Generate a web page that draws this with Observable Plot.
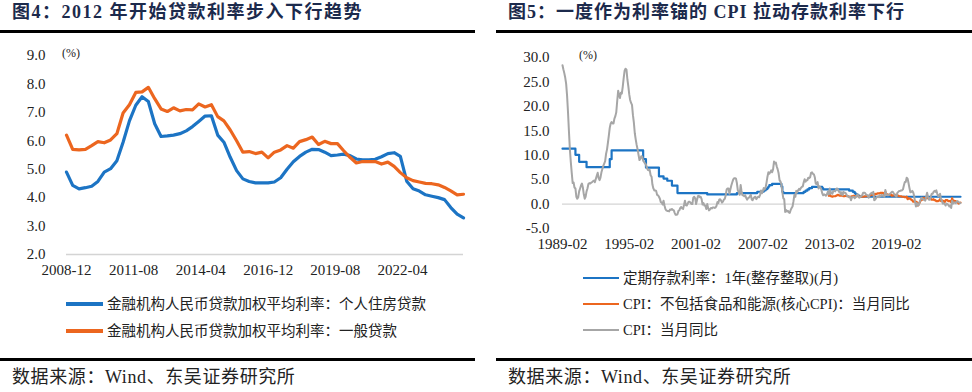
<!DOCTYPE html>
<html>
<head>
<meta charset="utf-8">
<script src="https://cdn.jsdelivr.net/npm/d3@7"></script>
<script src="https://cdn.jsdelivr.net/npm/@observablehq/plot@0.6"></script>
<style>
  html, body { margin: 0; padding: 0; background: #fff; }
  #root { position: relative; width: 972px; height: 392px; background: #fff; overflow: hidden;
          font-family: "Liberation Serif", "Noto Sans CJK SC", serif; color: #222; }
  .abs { position: absolute; }
  .title { position: absolute; font-size: 18px; font-weight: bold; letter-spacing: 1.5px; line-height: 25px;
           color: #1c2a4c; white-space: nowrap; }
  .rule { position: absolute; height: 3px; background: #000; }
  .src { position: absolute; font-size: 18px; line-height: 22px; color: #222; white-space: nowrap; letter-spacing: 0.6px; }
  .unit { position: absolute; font-size: 12px; line-height: 14px; color: #222; }
  .leg { position: absolute; font-size: 14.5px; line-height: 22px; white-space: nowrap; color: #222; }
  .leg .sw { position: absolute; top: 10px; height: 3px; }
</style>
</head>
<body>
<div id="root">
  <div class="title" style="left:12px;top:0px">图4：2012 年开始贷款利率步入下行趋势</div>
  <div class="rule" style="left:0;top:30px;width:475px"></div>
  <div class="abs" id="leftChart" style="left:0;top:40px"></div>
  <div class="unit" style="left:62px;top:46px">(%)</div>
  <div class="rule" style="left:0;top:358px;width:475px"></div>
  <div class="src" style="left:12px;top:366px">数据来源：Wind、东吴证券研究所</div>

  <div class="title" style="left:508px;top:0px;letter-spacing:1px">图5：一度作为利率锚的 CPI 拉动存款利率下行</div>
  <div class="rule" style="left:496px;top:30px;width:476px"></div>
  <div class="abs" id="rightChart" style="left:486px;top:40px"></div>
  <div class="unit" style="left:579px;top:48px">(%)</div>
  <div class="rule" style="left:496px;top:358px;width:476px"></div>
  <div class="src" style="left:508px;top:366px">数据来源：Wind、东吴证券研究所</div>
</div>
<script>
// ---------------- LEFT CHART DATA (quarterly, from 2008-12) ----------------
const leftStart = "2008-12";
const leftSeriesNames = ["金融机构人民币贷款加权平均利率：个人住房贷款", "金融机构人民币贷款加权平均利率：一般贷款"];
const housingLoanRate = [
  4.90, 4.43, 4.31, 4.35, 4.40, 4.57, 4.90, 5.02, 5.30, 5.95,
  6.70, 7.25, 7.55, 7.38, 6.60, 6.15, 6.17, 6.20, 6.25, 6.35,
  6.50, 6.68, 6.87, 6.88, 6.20, 5.95, 5.42, 4.95, 4.66, 4.57,
  4.52, 4.52, 4.52, 4.55, 4.70, 5.00, 5.26, 5.45, 5.60, 5.70,
  5.69, 5.60, 5.48, 5.50, 5.53, 5.48, 5.36, 5.33, 5.33, 5.35,
  5.44, 5.55, 5.58, 5.45, 4.58, 4.31, 4.23, 4.10, 4.05, 4.00,
  3.93, 3.65, 3.42, 3.29
];
const generalLoanRate = [
  6.20, 5.70, 5.68, 5.70, 5.83, 5.97, 5.93, 6.03, 6.25, 6.98,
  7.27, 7.70, 7.72, 7.88, 7.48, 7.12, 7.03, 7.16, 7.05, 7.10,
  7.09, 7.30, 7.19, 7.27, 6.85, 6.70, 6.38, 6.00, 5.60, 5.62,
  5.55, 5.60, 5.40, 5.60, 5.68, 5.83, 5.74, 5.97, 6.04, 6.13,
  5.87, 5.98, 5.90, 5.90, 5.65, 5.42, 5.22, 5.27, 5.27, 5.27,
  5.18, 5.25, 5.10, 4.88, 4.70, 4.60, 4.55, 4.50, 4.49, 4.45,
  4.36, 4.24, 4.10, 4.12
];
const leftXTicks = ["2008-12", "2011-08", "2014-04", "2016-12", "2019-08", "2022-04"];
const leftYTicks = [2, 3, 4, 5, 6, 7, 8, 9];

// ---------------- RIGHT CHART DATA (monthly, from 1989-02) ----------------
const rightSeriesNames = ["定期存款利率：1年(整存整取)(月)", "CPI：不包括食品和能源(核心CPI)：当月同比", "CPI：当月同比"];
const depositChangeMonths = [
  "1989-02", "1990-04", "1990-08", "1991-04", "1993-05", "1993-07", "1996-05", "1996-08",
  "1997-10", "1998-03", "1998-07", "1998-12", "1999-06", "2002-02", "2004-10", "2006-08",
  "2007-03", "2007-05", "2007-07", "2007-08", "2007-09", "2007-12", "2008-10", "2008-11",
  "2008-12", "2010-10", "2010-12", "2011-02", "2011-04", "2011-07", "2012-06", "2012-07",
  "2014-11", "2015-03", "2015-05", "2015-06", "2015-08", "2015-10", "2024-11"
];
const depositRate = [
  11.34, 10.08, 8.64, 7.56, 9.18, 10.98, 9.18, 7.47,
  5.67, 5.22, 4.77, 3.78, 2.25, 1.98, 2.25, 2.52,
  2.79, 3.06, 3.33, 3.60, 3.87, 4.14, 3.60, 2.52,
  2.25, 2.50, 2.75, 3.00, 3.25, 3.50, 3.25, 3.00,
  2.75, 2.50, 2.25, 2.00, 1.75, 1.50, 1.50
];
const cpiStart = "1989-02";
const cpi = [
  28.4, 27.6, 26.8, 25.9, 24.6, 22.2, 18.8, 14.8, 11.2, 8.6, 6.4,          // 1989 (Feb-Dec)
  4.3, 4.4, 3.4, 3.2, 1.5, 1.1, 1.4, 2.6, 3.2, 3.8, 4.2, 3.4,              // 1990
  2.0, 1.1, 1.5, 2.6, 3.2, 4.1, 4.3, 4.2, 4.4, 4.5, 4.7, 4.8,              // 1991
  4.5, 5.2, 5.8, 6.4, 5.3, 4.9, 5.4, 6.5, 7.2, 7.8, 8.3, 8.8,              // 1992
  10.3, 11.2, 12.5, 14.0, 15.6, 16.5, 16.8, 16.5, 16.5, 17.5, 18.0, 18.8,  // 1993
  21.1, 23.2, 22.4, 21.7, 22.8, 22.6, 24.0, 25.8, 27.3, 27.7, 27.5, 25.5,  // 1994
  24.1, 22.4, 21.3, 20.7, 20.3, 18.2, 16.7, 14.5, 13.2, 12.1, 11.2, 10.1,  // 1995
  9.0, 9.3, 9.8, 9.7, 8.9, 8.6, 8.3, 8.1, 7.4, 7.0, 6.9, 7.0,              // 1996
  5.9, 5.6, 4.0, 3.2, 2.8, 2.8, 2.7, 1.9, 1.8, 1.5, 1.1, 0.4,              // 1997
  0.3, -0.1, 0.7, -0.3, -1.0, -1.3, -1.4, -1.4, -1.5, -1.1, -1.2, -1.0,    // 1998
  -1.2, -1.3, -1.8, -2.2, -2.2, -2.1, -1.4, -1.3, -0.8, -0.6, -0.9, -1.0,  // 1999
  -0.2, 0.7, -0.2, -0.3, 0.1, 0.5, 0.5, 0.3, 0.0, 0.0, 1.3, 1.5,           // 2000
  1.2, 0.0, 0.8, 1.6, 1.7, 1.4, 1.5, 1.0, -0.1, 0.2, -0.3, -0.3,           // 2001
  -1.0, 0.0, -0.8, -1.3, -1.1, -0.8, -0.9, -0.7, -0.7, -0.8, -0.7, -0.4,   // 2002
  0.4, 0.2, 0.9, 1.0, 0.7, 0.3, 0.5, 0.9, 1.1, 1.8, 3.0, 3.2,              // 2003
  3.2, 2.1, 3.0, 3.8, 4.4, 5.0, 5.3, 5.3, 5.2, 4.3, 2.8, 2.4,              // 2004
  1.9, 3.9, 2.7, 1.8, 1.8, 1.6, 1.8, 1.3, 0.9, 1.2, 1.3, 1.6,              // 2005
  1.9, 0.9, 0.8, 1.2, 1.4, 1.5, 1.0, 1.3, 1.5, 1.4, 1.9, 2.8,              // 2006
  2.2, 2.7, 3.3, 3.0, 3.4, 4.4, 5.6, 6.5, 6.2, 6.5, 6.9, 6.5,              // 2007
  7.1, 8.7, 8.3, 8.5, 7.7, 7.1, 6.3, 4.9, 4.6, 4.0, 2.4, 1.2,              // 2008
  1.0, -1.6, -1.2, -1.5, -1.4, -1.7, -1.8, -1.2, -0.8, -0.5, 0.6, 1.9,     // 2009
  1.5, 2.7, 2.4, 2.8, 3.1, 2.9, 3.3, 3.5, 3.6, 4.4, 5.1, 4.6,              // 2010
  4.9, 4.9, 5.4, 5.3, 5.5, 6.4, 6.5, 6.2, 6.1, 5.5, 4.2, 4.1,              // 2011
  4.5, 3.2, 3.6, 3.4, 3.0, 2.2, 1.8, 2.0, 1.9, 1.7, 2.0, 2.5,              // 2012
  2.0, 3.2, 2.1, 2.4, 2.1, 2.7, 2.7, 2.6, 3.1, 3.2, 3.0, 2.5,              // 2013
  2.5, 2.0, 2.4, 1.8, 2.5, 2.3, 2.3, 2.0, 1.6, 1.6, 1.4, 1.5,              // 2014
  0.8, 1.4, 1.4, 1.5, 1.2, 1.4, 1.6, 2.0, 1.6, 1.3, 1.5, 1.6,              // 2015
  1.8, 2.3, 2.3, 2.3, 2.0, 1.9, 1.8, 1.3, 1.9, 2.1, 2.3, 2.1,              // 2016
  2.5, 0.8, 0.9, 1.2, 1.5, 1.5, 1.4, 1.8, 1.6, 1.9, 1.7, 1.8,              // 2017
  1.5, 2.9, 2.1, 1.8, 1.8, 1.9, 2.1, 2.3, 2.5, 2.5, 2.2, 1.9,              // 2018
  1.7, 1.5, 2.3, 2.5, 2.7, 2.7, 2.8, 2.8, 3.0, 3.8, 4.5, 4.5,              // 2019
  5.4, 5.2, 4.3, 3.3, 2.4, 2.5, 2.7, 2.4, 1.7, 0.5, -0.5, 0.2,             // 2020
  -0.3, -0.2, 0.4, 0.9, 1.3, 1.1, 1.0, 0.8, 0.7, 1.5, 2.3, 1.5,            // 2021
  0.9, 0.9, 1.5, 2.1, 2.1, 2.5, 2.7, 2.5, 2.8, 2.1, 1.6, 1.8,              // 2022
  2.1, 1.0, 0.7, 0.1, 0.2, 0.0, -0.3, 0.1, 0.0, -0.2, -0.5, -0.3,          // 2023
  -0.8, 0.7, 0.1, 0.3, 0.3, 0.2, 0.5, 0.6, 0.4, 0.3, 0.2                   // 2024 (Jan-Nov)
];
const coreCpiStart = "2013-01";
const coreCpi = [
  1.7, 2.1, 1.6, 1.6, 1.5, 1.6, 1.6, 1.6, 1.7, 1.8, 1.9, 1.8,   // 2013
  1.7, 1.7, 1.7, 1.7, 1.6, 1.6, 1.7, 1.7, 1.6, 1.6, 1.5, 1.5,   // 2014
  1.5, 1.6, 1.6, 1.7, 1.6, 1.6, 1.6, 1.7, 1.6, 1.5, 1.6, 1.5,   // 2015
  1.5, 1.5, 1.5, 1.6, 1.6, 1.6, 1.6, 1.6, 1.7, 1.8, 1.9, 1.9,   // 2016
  2.2, 1.8, 2.0, 2.1, 2.1, 2.2, 2.2, 2.2, 2.3, 2.3, 2.3, 2.2,   // 2017
  1.9, 2.5, 2.0, 2.0, 1.9, 1.9, 1.9, 2.0, 1.7, 1.8, 1.8, 1.8,   // 2018
  1.9, 1.8, 1.8, 1.7, 1.6, 1.6, 1.6, 1.5, 1.5, 1.5, 1.4, 1.4,   // 2019
  1.5, 1.0, 1.2, 1.1, 1.1, 0.9, 0.8, 0.5, 0.5, 0.5, 0.5, 0.4,   // 2020
  -0.3, 0.0, 0.3, 0.7, 0.9, 0.9, 1.3, 1.2, 1.2, 1.3, 1.2, 1.2,  // 2021
  1.2, 1.1, 1.1, 0.9, 0.9, 1.0, 0.8, 0.8, 0.6, 0.6, 0.6, 0.7,   // 2022
  1.0, 0.6, 0.7, 0.7, 0.6, 0.4, 0.8, 0.8, 0.8, 0.6, 0.6, 0.6,   // 2023
  0.4, 1.2, 0.6, 0.7, 0.6, 0.6, 0.4, 0.3, 0.1, 0.2, 0.3         // 2024
];
const rightXTicks = ["1989-02", "1995-02", "2001-02", "2007-02", "2013-02", "2019-02"];
const rightYTicks = [-5, 0, 5, 10, 15, 20, 25, 30];

// ---------------- STYLE ----------------
const BLUE = "#1c74c4", ORANGE = "#ec661f", GRAY = "#a6a6a6";
const FONT = '"Liberation Serif", "Noto Sans CJK SC", serif';
const parseM = d3.utcParse("%Y-%m");
const fmtM = d3.utcFormat("%Y-%m");

// ---------------- BUILD TABLES ----------------
const leftRows = [];
housingLoanRate.forEach((v, i) => leftRows.push({date: d3.utcMonth.offset(parseM(leftStart), 3 * i), value: v, series: leftSeriesNames[0]}));
generalLoanRate.forEach((v, i) => leftRows.push({date: d3.utcMonth.offset(parseM(leftStart), 3 * i), value: v, series: leftSeriesNames[1]}));

const depRows = depositChangeMonths.map((m, i) => ({date: parseM(m), value: depositRate[i]}));
const cpiRows = cpi.map((v, i) => ({date: d3.utcMonth.offset(parseM(cpiStart), i), value: v}));
const coreRows = coreCpi.map((v, i) => ({date: d3.utcMonth.offset(parseM(coreCpiStart), i), value: v}));

// ---------------- LEFT PLOT ----------------
const lastLeft = d3.utcMonth.offset(parseM(leftStart), 3 * (housingLoanRate.length - 1));
const leftPlot = Plot.plot({
  width: 486, height: 240,
  marginLeft: 66, marginRight: 23, marginTop: 15, marginBottom: 26,
  style: {fontFamily: FONT, fontSize: "15px", color: "#222", background: "transparent", overflow: "visible"},
  x: {type: "utc", domain: [parseM(leftStart), lastLeft]},
  y: {domain: [2, 9]},
  marks: [
    Plot.ruleY([2], {stroke: "#d4d4d4", strokeWidth: 1.5}),
    Plot.axisY({ticks: leftYTicks, tickSize: 0, tickPadding: 21, tickFormat: d => d.toFixed(1), label: null}),
    Plot.axisX({ticks: leftXTicks.map(parseM), tickSize: 0, tickPadding: 10, tickFormat: fmtM, label: null}),
    Plot.line(leftRows, {x: "date", y: "value", z: "series", stroke: "series", strokeWidth: 3.2, strokeLinejoin: "round"})
  ],
  color: {domain: leftSeriesNames, range: [BLUE, ORANGE]}
});
document.getElementById("leftChart").appendChild(leftPlot);

// ---------------- RIGHT PLOT ----------------
const rightPlot = Plot.plot({
  width: 486, height: 225,
  marginLeft: 76, marginRight: 12, marginTop: 17, marginBottom: 37,
  style: {fontFamily: FONT, fontSize: "15px", color: "#222", background: "transparent", overflow: "visible"},
  x: {type: "utc", domain: [parseM(cpiStart), cpiRows[cpiRows.length - 1].date]},
  y: {domain: [-5, 30]},
  marks: [
    Plot.ruleY([0], {stroke: "#d4d4d4", strokeWidth: 1.2}),
    Plot.axisY({ticks: rightYTicks, tickSize: 0, tickPadding: 13, tickFormat: d => d.toFixed(1), label: null}),
    Plot.axisX({ticks: rightXTicks.map(parseM), tickSize: 0, tickPadding: 10, tickFormat: fmtM, label: null}),
    Plot.line(depRows, {x: "date", y: "value", curve: "step-after", stroke: BLUE, strokeWidth: 2.2}),
    Plot.line(coreRows, {x: "date", y: "value", stroke: ORANGE, strokeWidth: 2.2, strokeLinejoin: "round"}),
    Plot.line(cpiRows, {x: "date", y: "value", stroke: GRAY, strokeWidth: 2, strokeLinejoin: "round"})
  ]
});
document.getElementById("rightChart").appendChild(rightPlot);

// ---------------- LEGENDS ----------------
function legendRow(parent, x, y, swX, swW, color, h, text) {
  const d = document.createElement("div");
  d.className = "leg";
  d.style.left = x + "px";
  d.style.top = (y - 11) + "px";
  d.textContent = text;
  const s = document.createElement("div");
  s.className = "sw";
  s.style.left = (swX - x) + "px";
  s.style.width = swW + "px";
  s.style.height = h + "px";
  s.style.top = (11 - h / 2) + "px";
  s.style.background = color;
  d.appendChild(s);
  parent.appendChild(d);
}
const root = document.getElementById("root");
legendRow(root, 107, 304, 66, 37, BLUE, 3.5, leftSeriesNames[0]);
legendRow(root, 107, 331, 66, 37, ORANGE, 3.5, leftSeriesNames[1]);
legendRow(root, 623, 278, 583, 36, BLUE, 2.5, rightSeriesNames[0]);
legendRow(root, 623, 304, 583, 36, ORANGE, 2.5, rightSeriesNames[1]);
legendRow(root, 623, 330, 583, 36, GRAY, 2.5, rightSeriesNames[2]);
</script>
</body>
</html>
